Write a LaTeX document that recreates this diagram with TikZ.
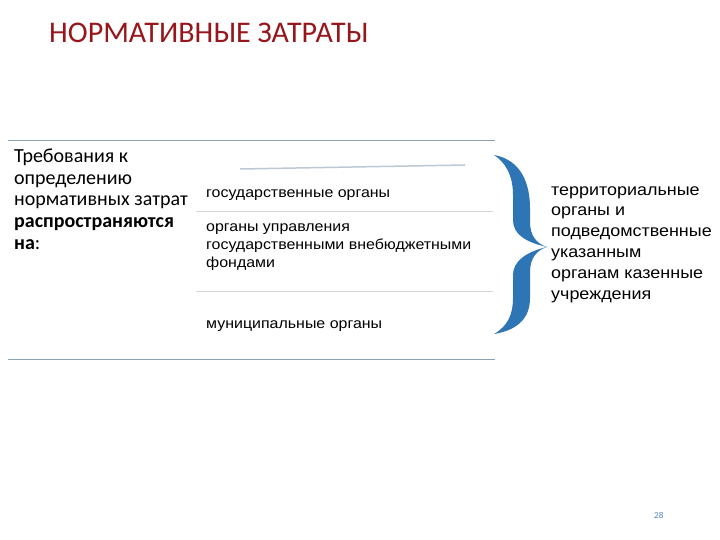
\documentclass[tikz,border=0pt]{standalone}
\usepackage{fontspec}
\setmainfont{Carlito}
\newfontfamily\listfont[FakeStretch=1.1]{Liberation Sans}
\usetikzlibrary{positioning}
\definecolor{titlered}{RGB}{150,22,28}
\definecolor{rulegray}{RGB}{140,162,178}
\definecolor{rowgray}{RGB}{212,214,216}
\definecolor{slantgray}{RGB}{188,200,212}
\definecolor{braceblue}{RGB}{46,117,182}
\definecolor{pagenum}{RGB}{79,129,189}
\tikzstyle{heading}=[anchor=base west,
inner sep=0,
text=titlered,
font=\fontsize{30}{32}\selectfont,
]
\tikzstyle{lefttext}=[anchor=base west,
inner sep=0,
align=left,
font=\fontsize{20}{21.6}\selectfont,
]
\tikzstyle{item}=[anchor=base west,
inner sep=0,
align=left,
font=\listfont\fontsize{14.5}{18}\selectfont,
]
\tikzstyle{righttext}=[anchor=base west,
inner sep=0,
align=left,
font=\listfont\fontsize{16.3}{20.8}\selectfont,
]
\tikzstyle{outerrule}=[draw=rulegray,line width=1pt]
\tikzstyle{rowrule}=[draw=rowgray,line width=0.8pt]

\begin{document}
\begin{tikzpicture}[x=1pt,y=-1pt]
        \useasboundingbox (0,0) rectangle (720,540);
        \node[heading] (title) at (49,43) {НОРМАТИВНЫЕ ЗАТРАТЫ};

        % table rules
        \draw[outerrule] (8,141) -- (495,141);
        \draw[outerrule] (8,359) -- (495,359);
        \draw[rowrule] (196,211) -- (493,211);
        \draw[rowrule] (196,291) -- (493,291);
        \draw[draw=slantgray,line width=1.5pt] (240,169) -- (465,165);

        % anchored at the baseline of the last line
        \node[lefttext] (scope_text) at (14,249) {Требования к\\определению\\нормативных затрат\\\textbf{распространяются}\\\textbf{на}:};
        \node[item] (state_bodies) at (206,198) {государственные органы};
        \node[item] (fund_bodies) at (206,267) {органы управления\\государственными внебюджетными\\фондами};
        \node[item] (municipal_bodies) at (206,328) {муниципальные органы};

        % curly brace
        \fill[braceblue] (494,155) .. controls (522,160) and (530,185) .. (530,208)
        -- (530,222) .. controls (530,236) and (537,244) .. (547,247)
        .. controls (537,250) and (530,258) .. (530,272)
        -- (530,298) .. controls (530,318) and (518,330) .. (494,334)
        .. controls (508,326) and (513,314) .. (513,298)
        -- (513,275) .. controls (513,262) and (525,252) .. (547,247)
        .. controls (525,242) and (513,234) .. (513,220)
        -- (513,195) .. controls (513,175) and (505,162) .. (494,155) -- cycle;

        \node[righttext] (subordinate) at (551,299) {территориальные\\органы и\\подведомственные\\указанным\\органам казенные\\учреждения};
        \node[anchor=base west,inner sep=0,text=pagenum,font=\fontsize{9}{10}\selectfont] (page) at (654,518) {28};
    \end{tikzpicture}
\end{document}
